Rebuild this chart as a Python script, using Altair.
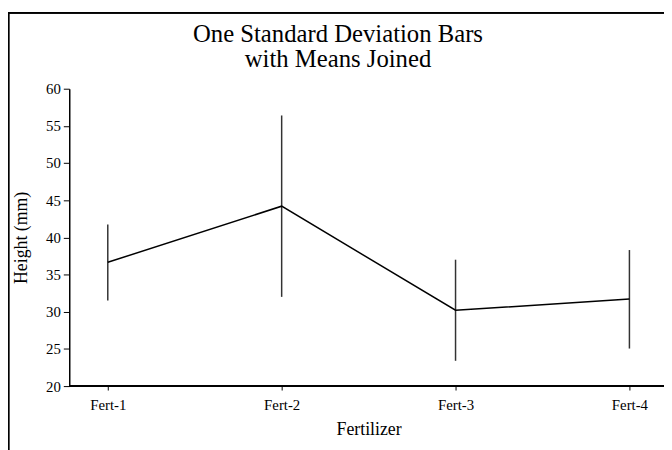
import altair as alt
import pandas as pd

fertilizers = ["Fert-1", "Fert-2", "Fert-3", "Fert-4"]
means = [36.65, 44.2, 30.2, 31.7]
upper = [41.75, 56.4, 37.0, 38.3]
lower = [31.5, 32.0, 23.4, 25.05]
y_ticks = [20, 25, 30, 35, 40, 45, 50, 55, 60]
title_lines = ["One Standard Deviation Bars", "with Means Joined"]

df = pd.DataFrame({"Fertilizer": fertilizers, "mean": means, "hi": upper, "lo": lower})

FONT = "Liberation Serif"
W, H = 602, 301

xscale = alt.Scale(type="point", range=[39, 567], padding=0)
xaxis = alt.Axis(title="Fertilizer", labelAngle=0, labelFont=FONT, titleFont=FONT,
                 labelFontSize=15, titleFontSize=18, titleFontWeight="normal",
                 labelColor="black", titleColor="black", domain=False,
                 tickColor="black", tickSize=4, labelPadding=8, titlePadding=8, grid=False)
yscale = alt.Scale(domain=[20, 60], nice=False, zero=False)
yaxis = alt.Axis(title="Height (mm)", values=y_ticks, grid=False, labelFont=FONT,
                 titleFont=FONT, labelFontSize=15, titleFontSize=18,
                 titleFontWeight="normal", labelColor="black", titleColor="black",
                 domainColor="black", tickColor="black", tickSize=6, labelPadding=3,
                 titlePadding=15, domainWidth=1.5)

line = alt.Chart(df).mark_line(color="black", strokeWidth=1.5).encode(
    x=alt.X("Fertilizer:N", sort=fertilizers, scale=xscale, axis=xaxis),
    y=alt.Y("mean:Q", scale=yscale, axis=yaxis),
)

bars = alt.Chart(df).mark_rule(color="#333333", strokeWidth=1.5).encode(
    x=alt.X("Fertilizer:N", sort=fertilizers, scale=xscale, axis=xaxis),
    y=alt.Y("lo:Q", scale=yscale, axis=yaxis),
    y2="hi:Q",
)

xline = alt.Chart(df).mark_rule(color="black", strokeWidth=1.5).encode(
    x=alt.value(0), x2=alt.value(W + 10), y=alt.value(H)
)

frame = alt.Chart(df).mark_rect(fill=None, stroke="black", strokeWidth=1.5).encode(
    x=alt.value(-61.5), x2=alt.value(800), y=alt.value(-77), y2=alt.value(600)
)

def title_text(txt, ypos):
    return alt.Chart(pd.DataFrame({"line": [txt]})).mark_text(
        font=FONT, fontSize=25, color="black", align="center", baseline="alphabetic"
    ).encode(text=alt.Text("line:N"), x=alt.value(272), y=alt.value(ypos))

t1 = title_text(title_lines[0], -47)
t2 = title_text(title_lines[1], -22)

chart = alt.layer(frame, bars, line, xline, t1, t2).properties(
    width=W, height=H,
    background="white",
    autosize=alt.AutoSizeParams(type="none"),
    padding={"left": 62, "top": 79, "right": 0, "bottom": 62},
).configure_view(stroke=None).configure_axis(grid=False).configure_text(font=FONT)

chart.save("out.html", embed_options={"renderer": "svg", "actions": False})
